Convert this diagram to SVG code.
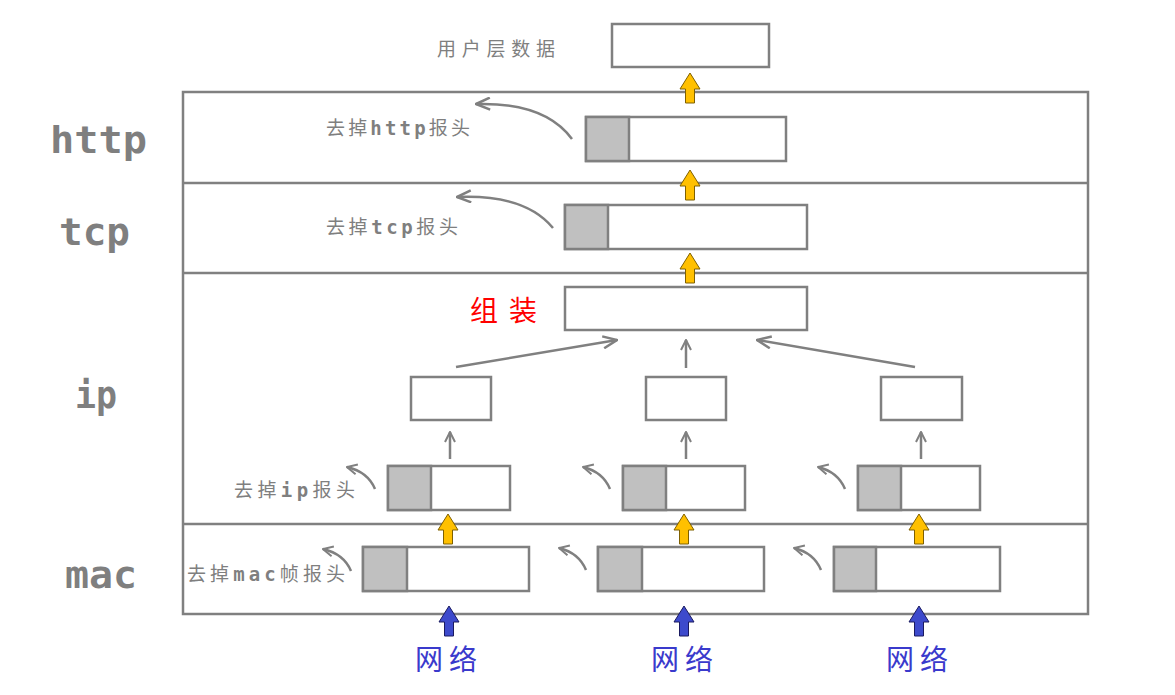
<svg xmlns="http://www.w3.org/2000/svg" width="1175" height="695" viewBox="0 0 1175 695">
<style>
.ln{stroke:#808080;stroke-width:2.5;fill:none}
.box{fill:#fff;stroke:#808080;stroke-width:2.5}
.hdr{fill:#c0c0c0;stroke:#808080;stroke-width:2.5}
.con{stroke:#808080;stroke-width:2.5;fill:none}
.lay{font-family:"DejaVu Sans Mono","Liberation Mono",monospace;font-weight:bold;font-size:38px;fill:#7f7f7f}
.lbl{font-family:"DejaVu Sans Mono","Noto Sans CJK SC",monospace;font-size:19px;fill:#7f7f7f}
.lt{font-weight:bold}
.net{font-family:"Noto Sans CJK SC",sans-serif;font-size:28px;fill:#3a3acc}
.yel{fill:#ffc000;stroke:#7f6000;stroke-width:1}
.blu{fill:#3d4acc;stroke:#1a1a60;stroke-width:1}
</style>
<defs>
<marker id="ah" viewBox="0 0 12 12" refX="11" refY="6" markerWidth="12" markerHeight="12" markerUnits="userSpaceOnUse" orient="auto">
<path d="M1,1 L11,6 L1,11" fill="none" stroke="#808080" stroke-width="2"/>
</marker>
<marker id="ah2" viewBox="0 0 16 14" refX="15" refY="7" markerWidth="16" markerHeight="14" markerUnits="userSpaceOnUse" orient="auto">
<path d="M1,1 L15,7 L1,13" fill="none" stroke="#808080" stroke-width="2.5"/>
</marker>
<path id="ya" d="M0,0 L10,16 L4.5,16 L4.5,30 L-4.5,30 L-4.5,16 L-10,16 Z"/>
</defs>
<g id="frame">
<rect x="183" y="92" width="905" height="522" class="ln"/>
<line x1="183" y1="183" x2="1088" y2="183" class="ln"/>
<line x1="183" y1="273" x2="1088" y2="273" class="ln"/>
<line x1="183" y1="524" x2="1088" y2="524" class="ln"/>
</g>
<g id="layer-labels">
<text class="lay" x="50" y="153" textLength="97" lengthAdjust="spacingAndGlyphs">http</text>
<text class="lay" x="59" y="245" textLength="71" lengthAdjust="spacingAndGlyphs">tcp</text>
<text class="lay" x="75" y="408" textLength="42" lengthAdjust="spacingAndGlyphs">ip</text>
<text class="lay" x="65" y="588" textLength="72" lengthAdjust="spacingAndGlyphs">mac</text>
</g>
<g id="user-data">
<text class="lbl" x="437" y="56" textLength="118" lengthAdjust="spacing">用户层数据</text>
<rect x="612" y="24" width="157" height="43" class="box"/>
</g>
<g id="http-packet">
<rect x="586" y="117" width="200" height="44" class="box"/>
<rect x="586" y="117" width="43" height="44" class="hdr"/>
<text class="lbl" x="326" y="135" textLength="144" lengthAdjust="spacing">去掉<tspan class="lt">http</tspan>报头</text>
</g>
<g id="tcp-packet">
<rect x="565" y="205" width="242" height="44" class="box"/>
<rect x="565" y="205" width="43" height="44" class="hdr"/>
<text class="lbl" x="326" y="234" textLength="132" lengthAdjust="spacing">去掉<tspan class="lt">tcp</tspan>报头</text>
</g>
<g id="assembled">
<rect x="565" y="287" width="242" height="43" class="box"/>
<text x="470" y="321" font-family="Noto Sans CJK SC,sans-serif" font-size="28" fill="#ff0000" textLength="67" lengthAdjust="spacing">组装</text>
</g>
<g id="ip-frag-1">
<rect x="411" y="377" width="80" height="43" class="box"/>
</g>
<g id="ip-frag-2">
<rect x="646" y="377" width="80" height="43" class="box"/>
</g>
<g id="ip-frag-3">
<rect x="881" y="377" width="81" height="43" class="box"/>
</g>
<g id="ip-packet-1">
<rect x="388" y="466" width="122" height="44" class="box"/>
<rect x="388" y="466" width="43" height="44" class="hdr"/>
<text class="lbl" x="234" y="497" textLength="121" lengthAdjust="spacing">去掉<tspan class="lt">ip</tspan>报头</text>
</g>
<g id="ip-packet-2">
<rect x="623" y="466" width="122" height="44" class="box"/>
<rect x="623" y="466" width="43" height="44" class="hdr"/>
</g>
<g id="ip-packet-3">
<rect x="858" y="466" width="122" height="44" class="box"/>
<rect x="858" y="466" width="43" height="44" class="hdr"/>
</g>
<g id="mac-packet-1">
<rect x="363" y="547" width="166" height="44" class="box"/>
<rect x="363" y="547" width="44" height="44" class="hdr"/>
<text class="lbl" x="187" y="581" textLength="158" lengthAdjust="spacing">去掉<tspan class="lt">mac</tspan>帧报头</text>
</g>
<g id="mac-packet-2">
<rect x="598" y="547" width="166" height="44" class="box"/>
<rect x="598" y="547" width="44" height="44" class="hdr"/>
</g>
<g id="mac-packet-3">
<rect x="834" y="547" width="166" height="44" class="box"/>
<rect x="834" y="547" width="42" height="44" class="hdr"/>
</g>
<g id="network">
<text class="net" x="449" y="670" text-anchor="middle" letter-spacing="6">网络</text>
<text class="net" x="685" y="670" text-anchor="middle" letter-spacing="6">网络</text>
<text class="net" x="920" y="670" text-anchor="middle" letter-spacing="6">网络</text>
</g>
<g id="connectors">
<use href="#ya" class="yel" x="690" y="73"/>
<use href="#ya" class="yel" x="690" y="170"/>
<use href="#ya" class="yel" x="690" y="253"/>
<use href="#ya" class="yel" x="448" y="514"/>
<use href="#ya" class="yel" x="684" y="514"/>
<use href="#ya" class="yel" x="919" y="514"/>
<use href="#ya" class="blu" x="449" y="606"/>
<use href="#ya" class="blu" x="684" y="606"/>
<use href="#ya" class="blu" x="919" y="606"/>
<path d="M456,367 L617,340" class="con" marker-end="url(#ah2)"/>
<path d="M686,368 L686,340" class="con" marker-end="url(#ah)"/>
<path d="M915,367 L757,340" class="con" marker-end="url(#ah2)"/>
<path d="M450,459 L450,432" class="con" stroke-width="2" marker-end="url(#ah)"/>
<path d="M686,459 L686,432" class="con" stroke-width="2" marker-end="url(#ah)"/>
<path d="M921,459 L921,432" class="con" stroke-width="2" marker-end="url(#ah)"/>
<path d="M572,139 Q545,102 476,104" class="con" marker-end="url(#ah2)"/>
<path d="M553,228 Q525,194 457,197" class="con" marker-end="url(#ah2)"/>
<path d="M375,489 Q368,472 347,467" class="con" marker-end="url(#ah)"/>
<path d="M351,571 Q344,554 323,549" class="con" marker-end="url(#ah)"/>
<path d="M610,489 Q603,472 583,467" class="con" marker-end="url(#ah)"/>
<path d="M845,489 Q838,472 818,467" class="con" marker-end="url(#ah)"/>
<path d="M586,570 Q579,553 559,548" class="con" marker-end="url(#ah)"/>
<path d="M821,570 Q814,553 794,548" class="con" marker-end="url(#ah)"/>
</g>
</svg>
